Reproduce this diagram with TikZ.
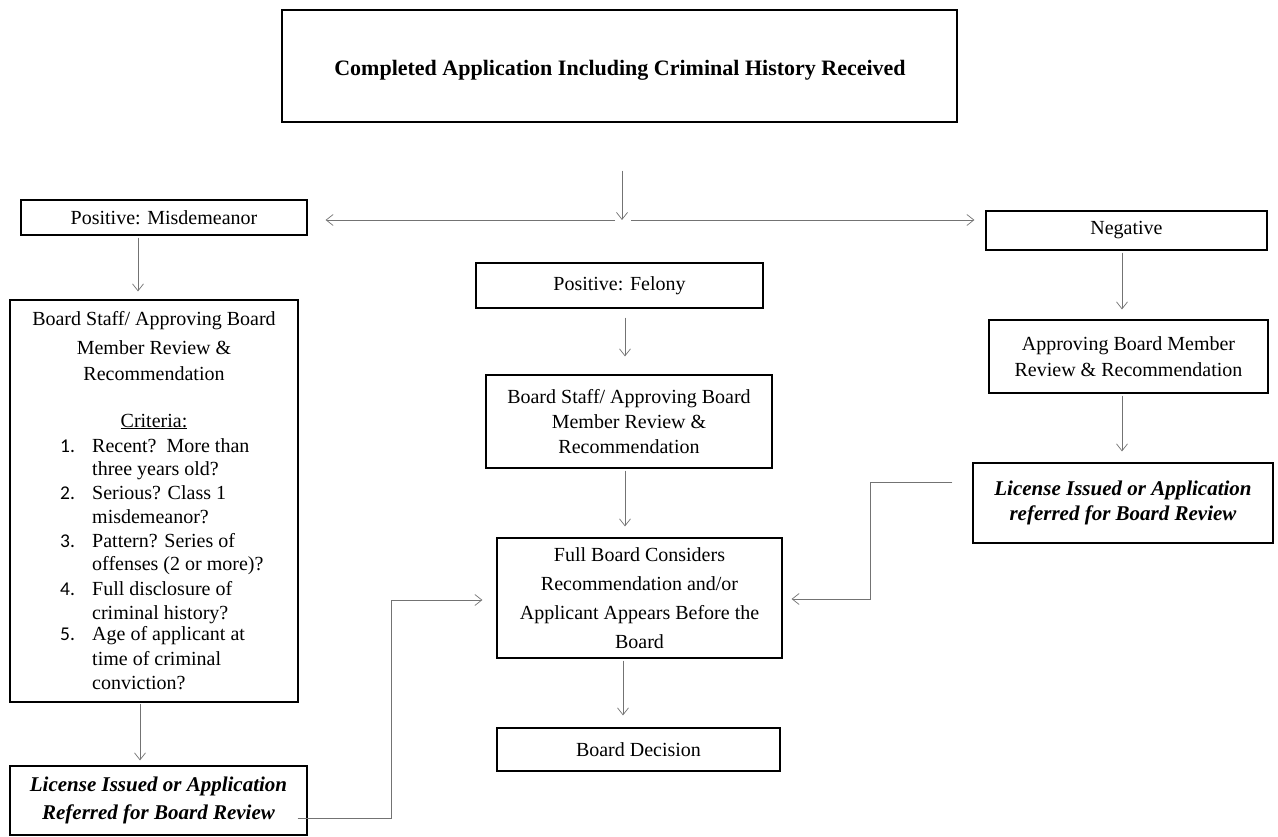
\documentclass[tikz,border=0pt]{standalone}
\usepackage{fontspec}
\setmainfont{Liberation Serif}
\newfontfamily\numfnt{Carlito}
\usetikzlibrary{arrows.meta}
\newcommand\bodyfnt{\fontsize{20}{26}\selectfont}
\begin{document}
\begin{tikzpicture}[x=1pt,y=-1pt,
  box/.style={draw=black, line width=1.2pt, inner sep=0pt, align=center, font=\bodyfnt},
  lic/.style={box, font=\fontsize{21}{27}\selectfont\bfseries\itshape},
  conn/.style={draw=black!55, line width=0.7pt, -{Straight Barb[length=7pt,width=11pt]}},
  ln/.style={anchor=base, inner sep=0pt, font=\bodyfnt},
  lnw/.style={anchor=base west, inner sep=0pt, font=\bodyfnt},
  num/.style={anchor=base west, inner sep=0pt, font=\numfnt\fontsize{19.5}{24}\selectfont}]
\useasboundingbox[fill=white] (0,0) rectangle (1278,837);

% boxes
\node[box, minimum width=675pt, minimum height=112pt] (top) at (619.5,66) {};
\node[anchor=base, inner sep=0pt, font=\fontsize{22}{26}\selectfont\bfseries] (title) at (620,76) {Completed Application Including Criminal History Received};
\node[box, minimum width=286pt, minimum height=35pt] (mis) at (164,217.5) {Positive: Misdemeanor};
\node[box, minimum width=287pt, minimum height=45pt] (fel) at (619.5,285.5) {Positive: Felony};
\node[box, minimum width=281pt, minimum height=39pt] (neg) at (1126.5,230.5) {Negative};
\node[box, minimum width=288pt, minimum height=402pt] (crit) at (154,501) {};
\node[box, minimum width=286pt, minimum height=93pt, font=\fontsize{20}{25}\selectfont] (staffc) at (629,421.5) {Board Staff/ Approving Board\\Member Review \&\\Recommendation};
\node[box, minimum width=279pt, minimum height=73pt] (appbm) at (1128.5,356.5) {Approving Board Member\\Review \& Recommendation};
\node[lic, minimum width=297pt, minimum height=69pt, font=\fontsize{21}{28}\selectfont\bfseries\itshape] (licl) at (158.5,800.5) {License Issued or Application\\Referred for Board Review};
\node[box, minimum width=285pt, minimum height=120pt, font=\fontsize{20}{29}\selectfont] (full) at (639.5,598) {Full Board Considers\\Recommendation and/or\\Applicant Appears Before the\\Board};
\node[lic, minimum width=300pt, minimum height=80pt, font=\fontsize{21}{25}\selectfont\bfseries\itshape] (licr) at (1123,503) {License Issued or Application\\referred for Board Review};
\node[box, minimum width=283pt, minimum height=43pt] (dec) at (638.5,749.5) {Board Decision};

% text inside the criteria box
\node[ln] (c1) at (154,326) {Board Staff/ Approving Board};
\node[ln] (c2) at (154,354) {Member Review \&};
\node[ln] (c3) at (154,380) {Recommendation};
\node[ln] (c4) at (154,427) {\underline{Criteria:}};
\node[num] (n1) at (60,452) {1.};
\node[lnw] (t1a) at (92,452) {Recent?\ \ More than};
\node[lnw] (t1b) at (92,475) {three years old?};
\node[num] (n2) at (60,499) {2.};
\node[lnw] (t2a) at (92,499) {Serious? Class 1};
\node[lnw] (t2b) at (92,523) {misdemeanor?};
\node[num] (n3) at (60,547) {3.};
\node[lnw] (t3a) at (92,547) {Pattern? Series of};
\node[lnw] (t3b) at (92,570) {offenses (2 or more)?};
\node[num] (n4) at (60,595) {4.};
\node[lnw] (t4a) at (92,595) {Full disclosure of};
\node[lnw] (t4b) at (92,619) {criminal history?};
\node[num] (n5) at (60,640) {5.};
\node[lnw] (t5a) at (92,640) {Age of applicant at};
\node[lnw] (t5b) at (92,665) {time of criminal};
\node[lnw] (t5c) at (92,689) {conviction?};

% connectors
\coordinate (split) at (622,220);
\draw[conn, shorten <=48pt] (top.south -| split) -- (split);
\draw[conn, shorten >=18pt] ([xshift=-7pt]split) -- (split -| mis.east);
\draw[conn, shorten >=11pt] ([xshift=9pt]split) -- (split -| neg.west);
\draw[conn, shorten <=2pt, shorten >=8pt] ([xshift=-26pt]mis.south) -- ([xshift=-16pt]crit.north);
\draw[conn, shorten <=1pt, shorten >=5pt] ([xshift=-14pt]crit.south) -- ([xshift=-18.5pt]licl.north);
\draw[conn, shorten <=9pt, shorten >=18pt] ([xshift=5.5pt]fel.south) -- ([xshift=-4pt]staffc.north);
\draw[conn, shorten <=2pt, shorten >=11pt] ([xshift=-4pt]staffc.south) -- ([xshift=-14.5pt]full.north);
\draw[conn, shorten <=2pt, shorten >=12pt] ([xshift=-16.5pt]full.south) -- ([xshift=-15.5pt]dec.north);
\draw[conn, shorten <=2pt, shorten >=10pt] ([xshift=-4.5pt]neg.south) -- ([xshift=-6.5pt]appbm.north);
\draw[conn, shorten <=2pt, shorten >=11pt] ([xshift=-6.5pt]appbm.south) -- ([xshift=-1pt]licr.north);
\draw[conn, shorten >=14pt] ([xshift=-10pt,yshift=-17.5pt]licl.east) -- ++(94,0) |- ([yshift=-2pt]full.west);
\draw[conn, shorten >=9pt] ([xshift=-20pt,yshift=21pt]licr.west) -- ++(-82,0) |- ([yshift=-1pt]full.east);
\end{tikzpicture}
\end{document}
